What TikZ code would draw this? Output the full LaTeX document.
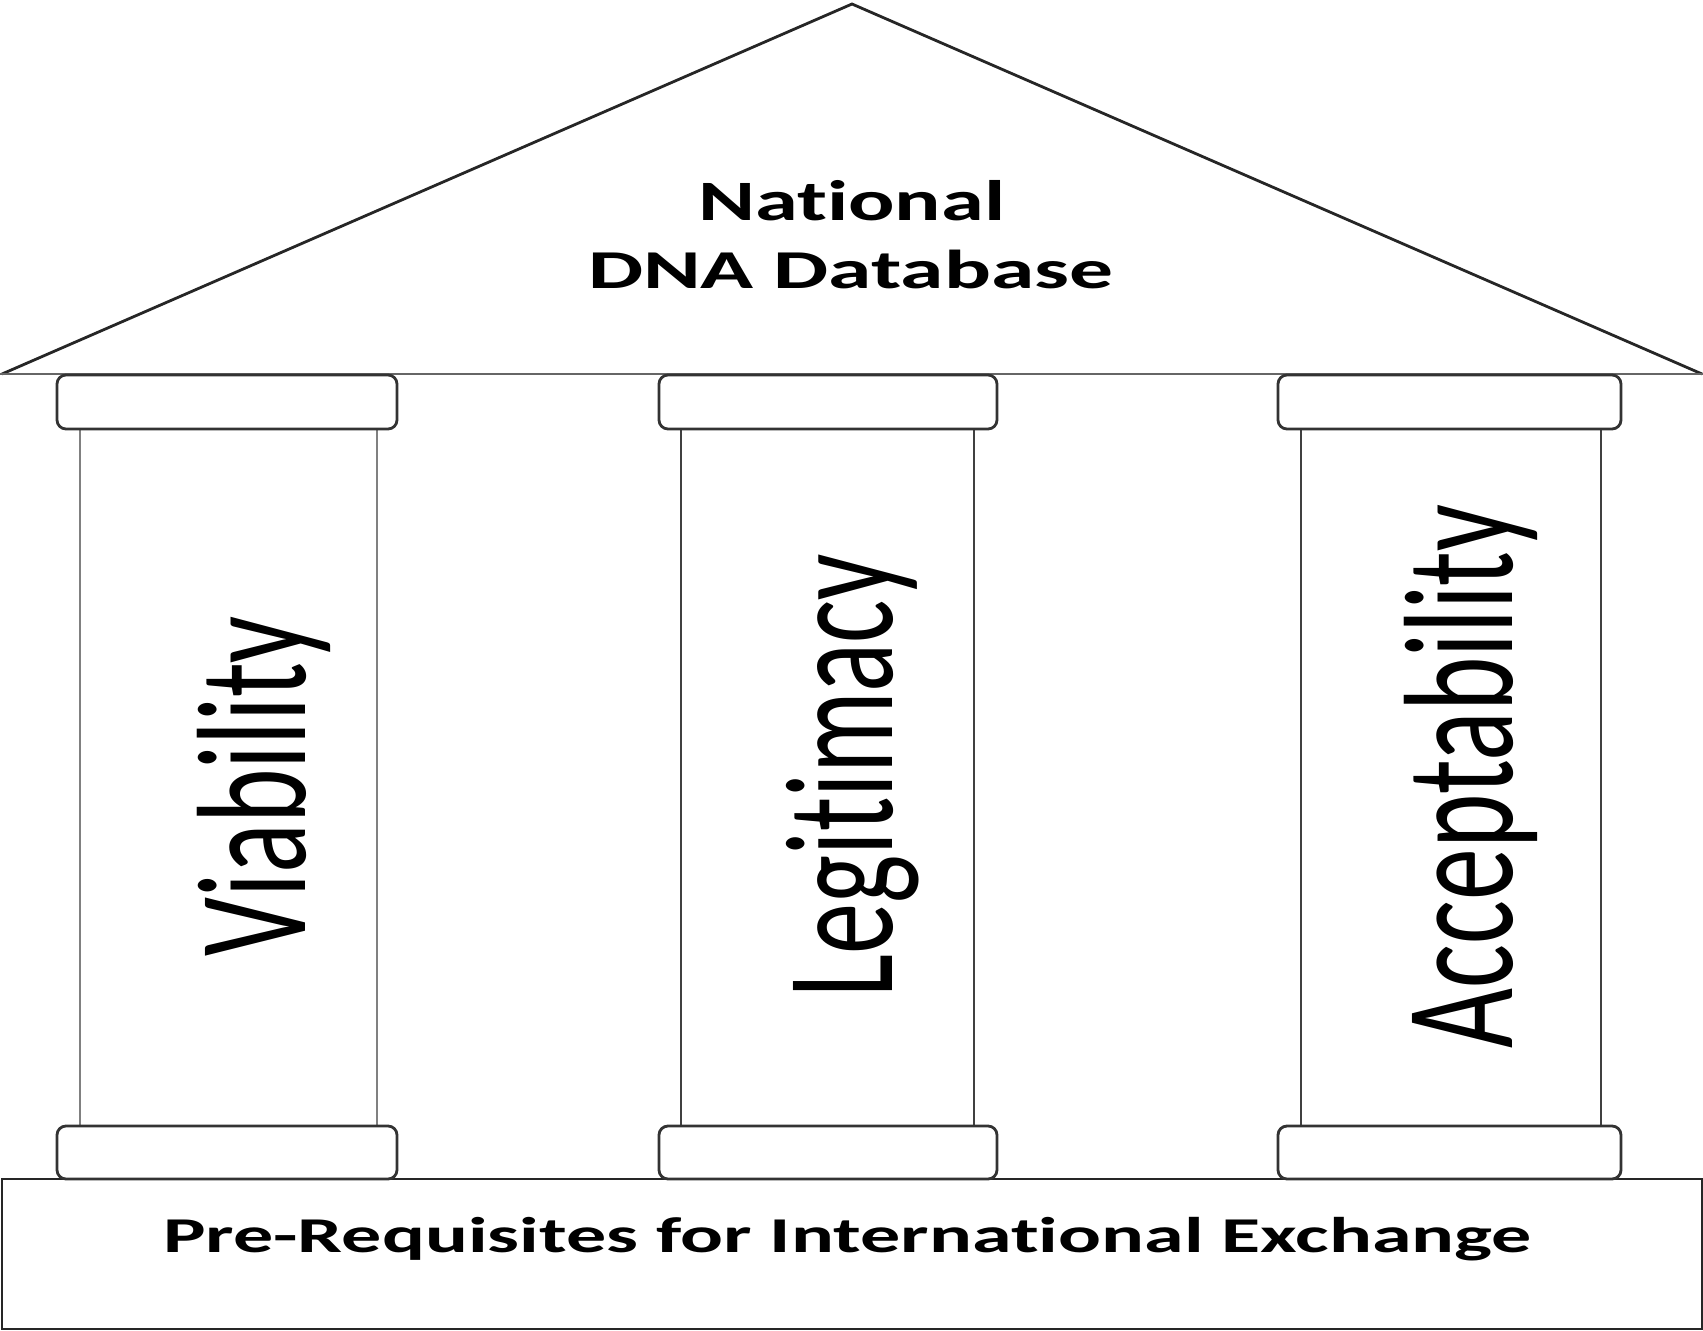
\documentclass[tikz,border=0pt]{standalone}
\usepackage{fontspec}
\setmainfont[Ligatures=NoCommon, RawFeature={-calt;-dlig;-clig}]{Carlito}
\usepackage{graphicx}
\newcommand{\fitcap}[3]{\resizebox{#1}{#2}{\raisebox{0pt}[\fontcharht\font`X][0pt]{#3}}}
\newcommand{\nolig}{\kern0pt }
\tikzset{
  roofline/.style={draw=black!85, line width=0.028cm, line join=miter},
  capbox/.style={draw=black!80, line width=0.028cm, rounded corners=0.09cm, fill=white},
  shaftline/.style={draw=black!75, line width=0.028cm},
  lightshaft/.style={draw=black!50, line width=0.028cm},
  baseline box/.style={draw=black!85, line width=0.028cm},
  lbl/.style={inner sep=0pt, outer sep=0pt, anchor=base west},
}
\begin{document}
\begin{tikzpicture}[x=0.01cm, y=-0.01cm]
\useasboundingbox (0,0) rectangle (1703,1330);
% roof
\coordinate (rl) at (2,374);
\coordinate (rt) at (852,4);
\coordinate (rr) at (1702,374);
\draw[roofline] (rl) -- (rt) -- (rr);
\draw[draw=black!60, line width=0.028cm] (0,374) -- (1703,374);
% shafts
\draw[lightshaft] (80,429) -- (80,1126) (377,429) -- (377,1126);
\draw[shaftline] (681,429) -- (681,1126) (974,429) -- (974,1126);
\draw[shaftline] (1301,429) -- (1301,1126) (1601,429) -- (1601,1126);
% base
\draw[baseline box] (2,1179) rectangle (1702,1329);
% capitals
\draw[capbox] (57,375) rectangle (397,429);
\draw[capbox] (659,375) rectangle (997,429);
\draw[capbox] (1278,375) rectangle (1621,429);
\draw[capbox] (57,1126) rectangle (397,1179);
\draw[capbox] (659,1126) rectangle (997,1179);
\draw[capbox] (1278,1126) rectangle (1621,1179);
% texts
\node[lbl, font=\bfseries] (t1) at (698,220) {\fitcap{3.07cm}{0.37cm}{Nat\nolig ional}};
\node[lbl, font=\bfseries] (t2) at (588,288) {\fitcap{5.25cm}{0.355cm}{DNA Database}};
\node[lbl, font=\bfseries] (base) at (163,1252) {\fitcap{13.68cm}{0.325cm}{Pre-Requisites for Internat\nolig ional Exchange}};
\node[lbl, rotate=90] (p1) at (305,956) {\fitcap{3.40cm}{1.00cm}{Viabilit\nolig y}};
\node[lbl, rotate=90] (p2) at (892,997) {\fitcap{4.43cm}{0.99cm}{Legit\nolig imacy}};
\node[lbl, rotate=90] (p3) at (1512,1048) {\fitcap{5.43cm}{1.00cm}{Acceptabilit\nolig y}};
\end{tikzpicture}
\end{document}
